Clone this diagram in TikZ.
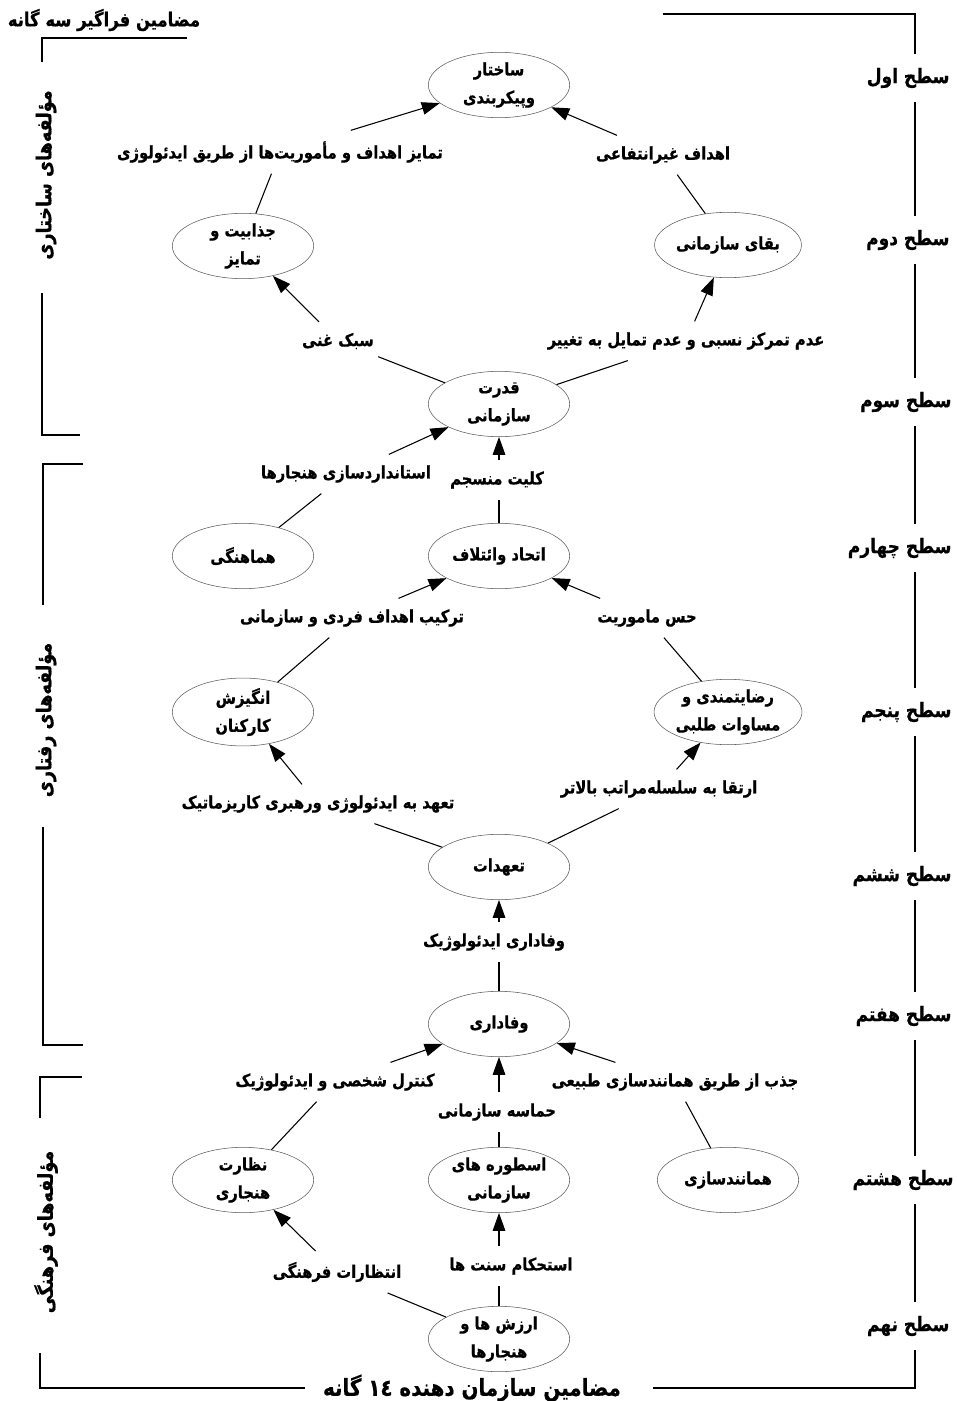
\documentclass[tikz,border=0pt]{standalone}
\usepackage{fontspec}
\usetikzlibrary{shapes.geometric,arrows.meta}
\TeXXeTstate=1
\newfontfamily\arabicfont[Script=Arabic,FakeStretch=0.85,FakeBold=0.6]{DejaVu Sans}
\newcommand{\pers}[1]{{\arabicfont\bfseries\beginR #1\endR}}
\begin{document}
\begin{tikzpicture}[x=0.75pt,y=-0.75pt,
  every node/.style={font=\fontsize{13}{21}\selectfont},
  ell/.style={ellipse,draw=gray!70!black,line width=0.4pt,minimum width=106pt,minimum height=49pt,inner sep=0pt,align=center},
  lab/.style={inner xsep=3pt,inner ysep=8pt},
  lvl/.style={fill=white,anchor=east,minimum height=36pt,inner xsep=1pt,font=\fontsize{15}{18}\selectfont},
  side/.style={rotate=90,font=\fontsize{15.5}{18}\selectfont},
  conn/.style={line width=0.8pt},
  arr/.style={conn,-{Triangle[length=13.5pt,width=9.5pt]}},
  frame/.style={line width=0.9pt}]
\useasboundingbox (0,0) rectangle (956,1401);

% frame
\draw[frame] (187,38) -- (42,38) -- (42,62);
\draw[frame] (42,293) -- (42,435) -- (80,435);
\draw[frame] (83,464) -- (43,464) -- (43,605);
\draw[frame] (43,827) -- (43,1045) -- (83,1045);
\draw[frame] (82,1077) -- (40,1077) -- (40,1118);
\draw[frame] (40,1353) -- (40,1388) -- (305,1388);
\draw[frame] (653,1388) -- (915,1388) -- (915,14) -- (663,14);

\node[font=\fontsize{14.5}{16}\selectfont] (T1) at (104,20) {\pers{مضامین فراگیر سه گانه}};
\node[font=\fontsize{17.5}{20}\selectfont] (T2) at (472,1388) {\pers{مضامین سازمان دهنده ١٤ گانه}};
\node[side] (S1) at (46,175) {\pers{مؤلفه‌های ساختاری}};
\node[side] (S2) at (46,720) {\pers{مؤلفه‌های رفتاری}};
\node[side] (S3) at (46,1232) {\pers{مؤلفه‌های فرهنگی}};

% levels
\node[lvl] (V1) at (951,78) {\pers{سطح اول}};
\node[lvl] (V2) at (951,240) {\pers{سطح دوم}};
\node[lvl] (V3) at (953,402) {\pers{سطح سوم}};
\node[lvl] (V4) at (953,548) {\pers{سطح چهارم}};
\node[lvl] (V5) at (953,712) {\pers{سطح پنجم}};
\node[lvl] (V6) at (953,876) {\pers{سطح ششم}};
\node[lvl] (V7) at (953,1016) {\pers{سطح هفتم}};
\node[lvl] (V8) at (955,1180) {\pers{سطح هشتم}};
\node[lvl] (V9) at (951,1326) {\pers{سطح نهم}};

% ellipses
\node[ell] (A) at (499,85) {\pers{ساختار}\\\pers{وپیکربندی}};
\node[ell] (B) at (243,246) {\pers{جذابیت و}\\\pers{تمایز}};
\node[ell] (C) at (728,245) {\pers{بقای سازمانی}};
\node[ell] (D) at (499,404) {\pers{قدرت}\\\pers{سازمانی}};
\node[ell] (E) at (243,556) {\pers{هماهنگی}};
\node[ell] (F) at (499,556) {\pers{اتحاد وائتلاف}};
\node[ell] (G) at (243,712) {\pers{انگیزش}\\\pers{کارکنان}};
\node[ell] (H) at (728,712) {\pers{رضایتمندی و}\\\pers{مساوات طلبی}};
\node[ell] (I) at (499,867) {\pers{تعهدات}};
\node[ell] (J) at (499,1024) {\pers{وفاداری}};
\node[ell] (K) at (243,1180) {\pers{نظارت}\\\pers{هنجاری}};
\node[ell] (L) at (499,1180) {\pers{اسطوره های}\\\pers{سازمانی}};
\node[ell] (M) at (728,1180) {\pers{همانندسازی}};
\node[ell] (N) at (499,1339) {\pers{ارزش ها و}\\\pers{هنجارها}};

% edge labels
\node[lab] (L1) at (280,152) {\pers{تمایز اهداف و مأموریت‌ها از طریق ایدئولوژی}};
\node[lab] (L2) at (663,155) {\pers{اهداف غیرانتفاعی}};
\node[lab] (L3) at (338,341) {\pers{سبک غنی}};
\node[lab] (L4) at (686,341) {\pers{عدم تمرکز نسبی و عدم تمایل به تغییر}};
\node[lab] (L5) at (346,474) {\pers{استانداردسازی هنجارها}};
\node[lab] (L6) at (497,480) {\pers{کلیت منسجم}};
\node[lab] (L7) at (352,618) {\pers{ترکیب اهداف فردی و سازمانی}};
\node[lab] (L8) at (647,618) {\pers{حس ماموریت}};
\node[lab] (L9) at (318,804) {\pers{تعهد به ایدئولوژی ورهبری کاریزماتیک}};
\node[lab] (L10) at (659,789) {\pers{ارتقا به سلسله‌مراتب بالاتر}};
\node[lab] (L11) at (494,942) {\pers{وفاداری ایدئولوژیک}};
\node[lab] (L12) at (335,1082) {\pers{کنترل شخصی و ایدئولوژیک}};
\node[lab] (L13) at (675,1082) {\pers{جذب از طریق همانندسازی طبیعی}};
\node[lab] (L14) at (497,1112) {\pers{حماسه سازمانی}};
\node[lab] (L15) at (337,1272) {\pers{انتظارات فرهنگی}};
\node[lab] (L16) at (511,1266) {\pers{استحکام سنت ها}};

% connectors
\draw[conn] (B) -- (L1); \draw[arr] (L1) -- (A);
\draw[conn] (C) -- (L2); \draw[arr] (L2) -- (A);
\draw[conn] (D) -- (L3); \draw[arr] (L3) -- (B);
\draw[conn] (D) -- (L4); \draw[arr] (L4) -- (C);
\draw[conn] (E) -- (L5); \draw[arr] (L5) -- (D);
\draw[conn] (F) -- (F |- L6.south); \draw[arr] (F |- L6.north) -- (D);
\draw[conn] (G) -- (L7); \draw[arr] (L7) -- (F);
\draw[conn] (H) -- (L8); \draw[arr] (L8) -- (F);
\draw[conn] (I) -- (L9); \draw[arr] (L9) -- (G);
\draw[conn] (I) -- (L10); \draw[arr] (L10) -- (H);
\draw[conn] (J) -- (J |- L11.south); \draw[arr] (J |- L11.north) -- (I);
\draw[conn] (K) -- (L12); \draw[arr] (L12) -- (J);
\draw[conn] (M) -- (L13); \draw[arr] (L13) -- (J);
\draw[conn] (L) -- (L |- L14.south); \draw[arr] (L |- L14.north) -- (J);
\draw[conn] (N) -- (L15); \draw[arr] (L15) -- (K);
\draw[conn] (N) -- (N |- L16.south); \draw[arr] (N |- L16.north) -- (L);
\end{tikzpicture}
\end{document}
